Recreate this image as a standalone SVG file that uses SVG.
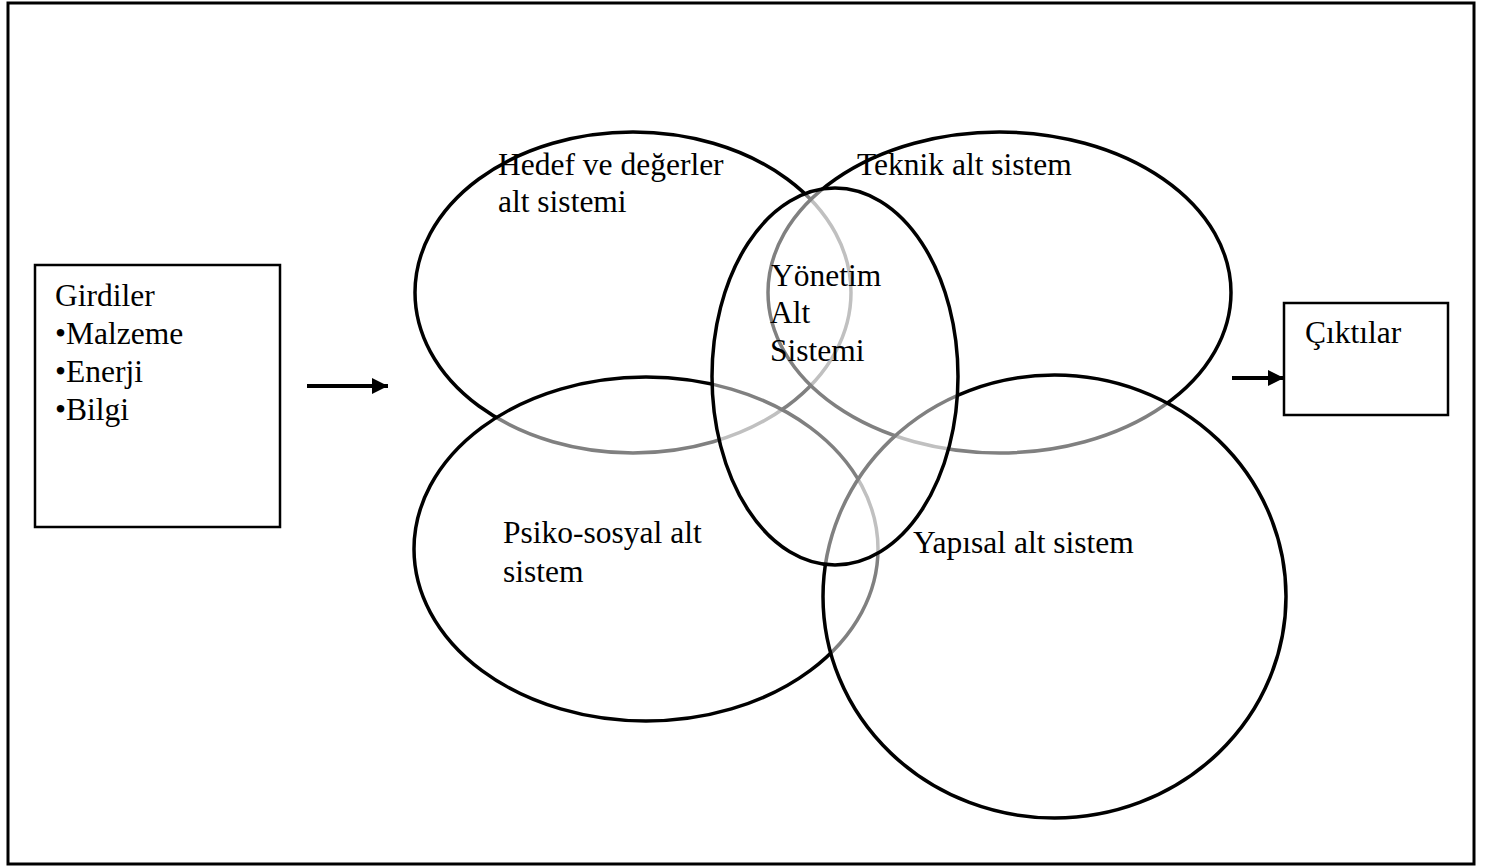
<svg xmlns="http://www.w3.org/2000/svg" width="1499" height="868" viewBox="0 0 1499 868">
<style>
.t{font-family:"Liberation Serif","Times New Roman",Tinos,"DejaVu Serif",serif;font-size:31.5px;fill:#000}
.e{fill:#fff;fill-opacity:0.5;stroke:#000;stroke-width:3.5}
.b{fill:#fff;stroke:#000;stroke-width:2.5}
.c{stroke:#000;stroke-width:4;fill:none}
</style>
<defs>
<marker id="ah" markerWidth="4" markerHeight="4" refX="4" refY="2" orient="auto" markerUnits="strokeWidth">
<path d="M0,0 L4,2 L0,4 Z" fill="#000"/>
</marker>
</defs>
<rect x="8" y="3" width="1466" height="861" fill="#fff" stroke="#000" stroke-width="3"/>
<g id="girdiler">
<rect class="b" x="35" y="265" width="245" height="262"/>
<text class="t" font-family="Liberation Serif, serif" x="55" y="306">Girdiler</text>
<text class="t" font-family="Liberation Serif, serif" x="55" y="344">•Malzeme</text>
<text class="t" font-family="Liberation Serif, serif" x="55" y="382">•Enerji</text>
<text class="t" font-family="Liberation Serif, serif" x="55" y="420">•Bilgi</text>
</g>
<g id="ciktilar">
<rect class="b" x="1284" y="303" width="164" height="112"/>
<text class="t" font-family="Liberation Serif, serif" x="1305" y="343">Çıktılar</text>
</g>
<g id="ellipses">
<ellipse id="hedef" class="e" cx="633" cy="292.5" rx="218" ry="160.5"/>
<ellipse id="psiko" class="e" cx="646" cy="549" rx="232" ry="172"/>
<ellipse id="teknik" class="e" cx="999.5" cy="292.5" rx="231.5" ry="160.5"/>
<ellipse id="yapisal" class="e" cx="1054.5" cy="596.5" rx="231.5" ry="221.5"/>
<ellipse id="yonetim" class="e" cx="835" cy="376.5" rx="123" ry="188.5"/>
</g>
<g id="labels" font-family="Liberation Serif, serif">
<text class="t" x="498" y="175">Hedef ve değerler</text>
<text class="t" x="498" y="212">alt sistemi</text>
<text class="t" x="857" y="175">Teknik alt sistem</text>
<text class="t" x="771" y="286">Yönetim</text>
<text class="t" x="770" y="323">Alt</text>
<text class="t" x="770" y="361">Sistemi</text>
<text class="t" x="503" y="543">Psiko-sosyal alt</text>
<text class="t" x="503" y="582">sistem</text>
<text class="t" x="913" y="553">Yapısal alt sistem</text>
</g>
<g id="connectors">
<line class="c" x1="307" y1="386" x2="388" y2="386" marker-end="url(#ah)"/>
<line class="c" x1="1232" y1="378" x2="1284" y2="378" marker-end="url(#ah)"/>
</g>
</svg>
